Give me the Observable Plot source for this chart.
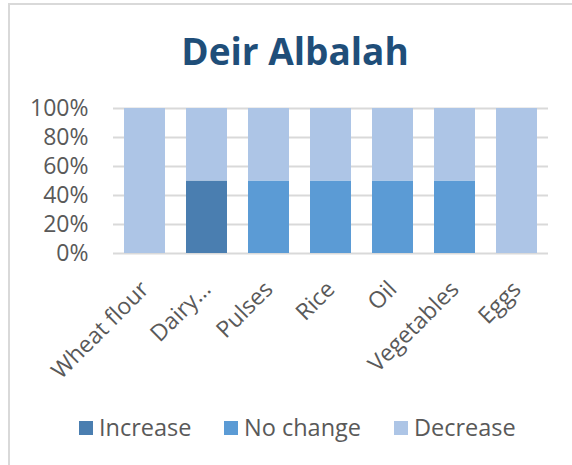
<!DOCTYPE html>
<html>
<head>
<meta charset="utf-8">
<script src="https://cdn.jsdelivr.net/npm/d3@7"></script>
<script src="https://cdn.jsdelivr.net/npm/@observablehq/plot@0.6"></script>
<style>
  body { margin: 0; background: #fff; font-family: "Open Sans", sans-serif; overflow: hidden; }
  #wrap { position: relative; width: 572px; height: 465px; overflow: hidden; }
  #frame { position: absolute; left: 8px; top: 3px; width: 700px; height: 700px; border-left: 2px solid #d9d9d9; border-top: 2px solid #d9d9d9; box-sizing: border-box; }
  #title { position: absolute; left: 0; width: 590px; top: 25px; text-align: center; font-size: 37px; font-weight: bold; color: #1f4e79; white-space: nowrap; }
  #chart { position: absolute; left: 0; top: 0; width: 572px; }
  #legend { position: absolute; top: 0; left: 0; width: 572px; height: 465px; font-size: 23.5px; color: #595959; }
  .sw { position: absolute; top: 421px; width: 14px; height: 14px; }
  .lt { position: absolute; top: 411px; white-space: nowrap; line-height: 32px; }
</style>
</head>
<body>
<div id="wrap">
  <div id="frame"></div>
  <div id="title">Deir Albalah</div>
  <div id="chart"></div>
  <div id="legend"></div>
</div>
<script>
const categories = ["Wheat flour", "Dairy…", "Pulses", "Rice", "Oil", "Vegetables", "Eggs"];
const seriesNames = ["Increase", "No change", "Decrease"];
const seriesColors = ["#4a7eb0", "#5b9bd5", "#adc5e6"];
const increase = [0, 0.5, 0, 0, 0, 0, 0];
const noChange = [0, 0, 0.5, 0.5, 0.5, 0.5, 0];
const decrease = [1, 0.5, 0.5, 0.5, 0.5, 0.5, 1];
const yTicks = [0, 0.2, 0.4, 0.6, 0.8, 1];

const seriesValues = [increase, noChange, decrease];
const data = [];
seriesNames.forEach((s, si) => categories.forEach((c, ci) => data.push({category: c, series: s, value: seriesValues[si][ci]})));

const plot = Plot.plot({
  width: 572,
  height: 400,
  marginTop: 108,
  marginBottom: 147,
  marginLeft: 113,
  marginRight: 24,
  style: { fontFamily: "Open Sans, sans-serif", color: "#595959", background: "transparent", overflow: "visible" },
  x: { domain: categories, paddingInner: 0.34, paddingOuter: 0.17, label: null },
  y: { domain: [0, 1], label: null },
  color: { domain: seriesNames, range: seriesColors },
  marks: [
    Plot.ruleY(yTicks, { stroke: "#d9d9d9", strokeWidth: 2 }),
    Plot.barY(data, { x: "category", y: "value", fill: "series", order: seriesNames }),
    Plot.axisY(yTicks, { tickSize: 0, tickPadding: 25, fontSize: 23, tickFormat: d => Math.round(d * 100) + "%", fill: "#595959" }),
    Plot.axisX({ tickSize: 0, tickPadding: 32, tickRotate: -45, fontSize: 23, fill: "#595959", textAnchor: "end" })
  ]
});
document.getElementById("chart").appendChild(plot);

const legend = document.getElementById("legend");
const swX = [79, 224, 394];
const txX = [99, 244, 414];
seriesNames.forEach((s, i) => {
  const sw = document.createElement("span");
  sw.className = "sw";
  sw.style.left = swX[i] + "px";
  sw.style.background = seriesColors[i];
  legend.appendChild(sw);
  const t = document.createElement("span");
  t.className = "lt";
  t.style.left = txX[i] + "px";
  t.textContent = s;
  legend.appendChild(t);
});
</script>
</body>
</html>
